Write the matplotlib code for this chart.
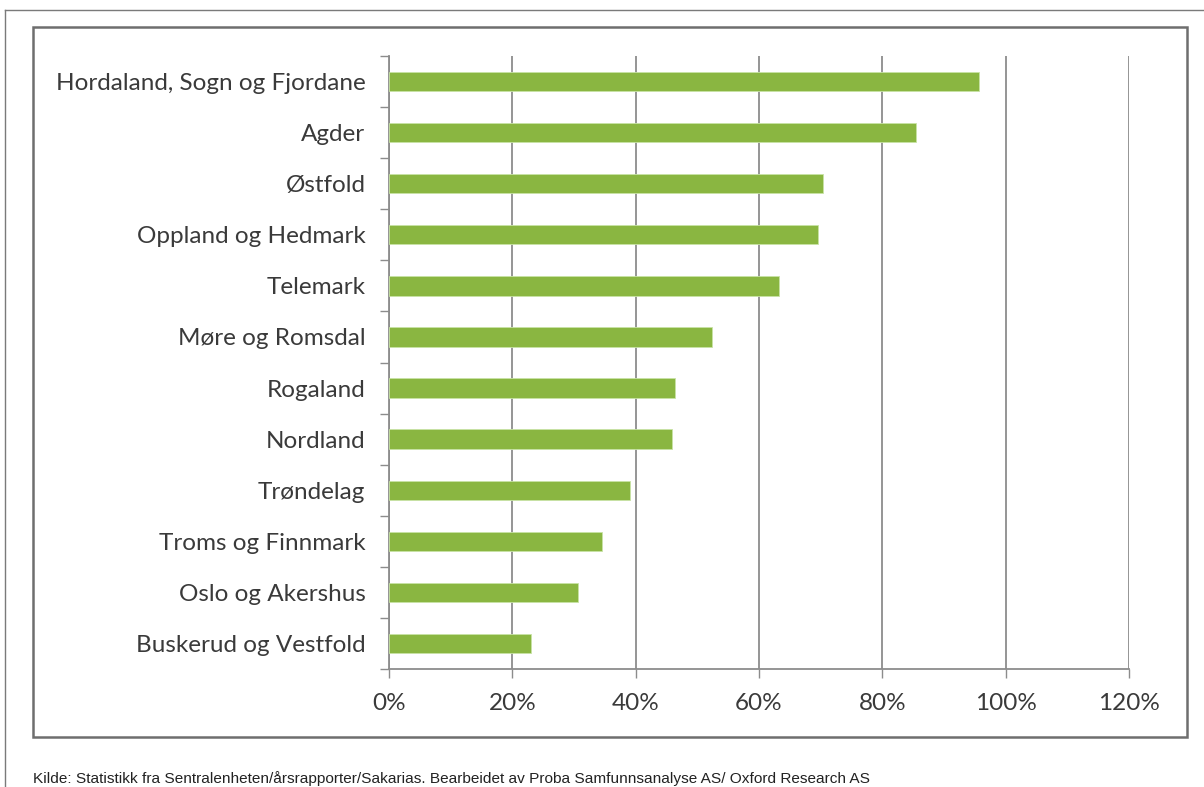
"""Horizontal bar chart of county shares, Excel-style frame"""
import matplotlib.pyplot as plt
from matplotlib.patches import Rectangle
from matplotlib.ticker import FixedLocator, FuncFormatter

regions = [
    'Hordaland, Sogn og Fjordane',
    'Agder',
    'Østfold',
    'Oppland og Hedmark',
    'Telemark',
    'Møre og Romsdal',
    'Rogaland',
    'Nordland',
    'Trøndelag',
    'Troms og Finnmark',
    'Oslo og Akershus',
    'Buskerud og Vestfold',
]
shares = [95.7, 85.5, 70.4, 69.6, 63.3, 52.3, 46.3, 45.9, 39.1, 34.6, 30.7, 23.1]
x_ticks = [0, 20, 40, 60, 80, 100, 120]
source = ('Kilde: Statistikk fra Sentralenheten/årsrapporter/Sakarias. '
          'Bearbeidet av Proba Samfunnsanalyse AS/ Oxford Research AS')

W, H = 1204, 787
bar_green = '#8ab641'
grid_grey = '#8c8c8c'
text_grey = '#3a3a3a'


def fx(px):
  return px / W


def fy(py):
  return 1 - py / H


fig = plt.figure(figsize=(W / 100, H / 100), dpi=100)
fig.patch.set_facecolor('white')

# outer page border (top + left) and the chart frame
fig.add_artist(plt.Line2D([fx(5), fx(1204)], [fy(10), fy(10)], color='#7a7a7a', lw=1.0))
fig.add_artist(plt.Line2D([fx(5), fx(5)], [fy(10), fy(787)], color='#7a7a7a', lw=1.0))
fig.add_artist(Rectangle((fx(33), fy(737)), fx(1187) - fx(33), fy(27) - fy(737),
                         transform=fig.transFigure, fill=False,
                         edgecolor='#6e6e6e', lw=1.8))

ax = fig.add_axes([fx(389), fy(669), fx(1129) - fx(389), fy(56) - fy(669)])

ypos = list(range(len(regions)))
ax.barh(ypos, shares, height=0.38, color=bar_green,
        edgecolor='#c8e3a6', linewidth=0.6, zorder=3)

ax.set_xlim(0, 120)
ax.set_ylim(len(regions) - 0.5, -0.5)

ax.xaxis.set_major_locator(FixedLocator(x_ticks))
ax.xaxis.set_major_formatter(FuncFormatter(lambda v, _: f'{v:.0f}%'))
ax.grid(axis='x', color=grid_grey, lw=1.3, zorder=1)

# category labels centred on bars, tick marks on the band edges
ax.set_yticks(ypos)
ax.set_yticklabels(regions)
ax.set_yticks([i - 0.5 for i in range(len(regions) + 1)], minor=True)
ax.tick_params(axis='y', which='major', length=0, pad=17)
ax.tick_params(axis='y', which='minor', length=6.5, width=1.0, color=grid_grey)
ax.tick_params(axis='x', length=6.5, width=1.0, color=grid_grey, pad=10.5)

for lbl in ax.get_yticklabels() + ax.get_xticklabels():
  lbl.set_family('Lato')
  lbl.set_fontsize(17.5)
  lbl.set_color(text_grey)

for side in ['top', 'right']:
  ax.spines[side].set_visible(False)
for side in ['left', 'bottom']:
  ax.spines[side].set_color(grid_grey)
  ax.spines[side].set_linewidth(1.3)

fig.text(fx(33), fy(783), source, family='Liberation Sans', fontsize=11.05,
         color='#222222', ha='left', va='baseline')

fig.savefig('out.png', dpi=100)
